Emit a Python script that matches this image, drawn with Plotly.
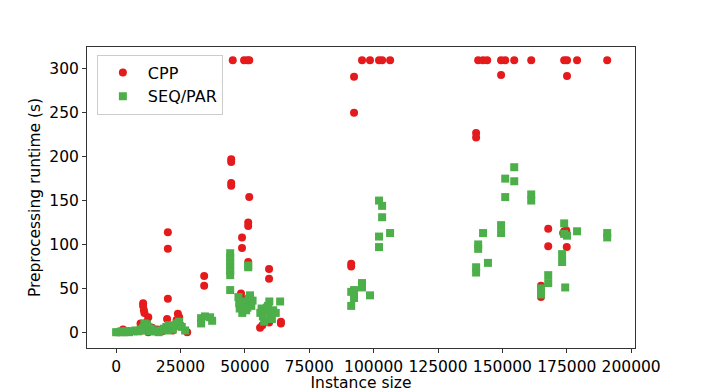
import plotly.graph_objects as go

# CPP runs (red circles): instance size, preprocessing runtime in s
cpp_size = [
    45300, 49700, 51000, 51700, 95500, 98600, 102100, 103300, 106400,
    140600, 142500, 144100, 149500, 151100, 154600, 161200, 174000, 175100, 179000, 190700,
    92400, 92400, 149500, 175100, 139800, 139800,
    44700, 44700, 44700, 44700, 51700, 51300, 51300, 48900, 48900, 51300,
    59400, 59400, 34200, 34200, 48500, 49000, 64000, 64000, 55900, 56800, 59400,
    91300, 91300,
    167800, 167800, 165000, 165000, 174000, 174800, 175000, 173600,
    20100, 20100, 20100, 10500, 10500, 10800, 11000, 12500, 19800, 24000, 24500, 23500,
    2700, 27600, 12000, 9500, 11500, 14000, 10000, 16000, 18000, 22000, 21000, 12500,
    8000, 5000, 3000, 1000, 25000,
]
cpp_time = [
    310, 310, 310, 310, 310, 310, 310, 310, 310,
    310, 310, 310, 310, 310, 310, 310, 310, 310, 310, 310,
    291, 250, 293, 292, 227, 222,
    197, 194, 170, 167, 154, 125, 121, 108, 96, 80,
    72, 61, 64, 53, 44, 38, 12, 10, 5, 8, 11,
    78, 75,
    118, 98, 53, 40, 115, 116, 97, 113,
    114, 95, 38, 33, 30, 25, 22, 17, 15, 21, 17, 14,
    3, 0, 12, 10, 8, 5, 2, 3, 1, 2, 5, 0,
    1, 1, 0, 0, 8,
]

# SEQ/PAR runs (green squares)
seq_size = [
    44300, 44300, 44300, 44300, 44300, 44300, 44300, 51300, 51300,
    47500, 48500, 49500, 50500, 51500, 52000, 50000, 48000, 52500, 49000, 51000, 53000, 47800,
    56000, 57000, 58000, 59000, 59500, 60000, 60500, 61000, 57500, 58500, 62000, 63700, 56500,
    33000, 34500, 36500, 37300, 33000,
    91300, 92400, 92400, 91300, 95500, 95500, 98600,
    102100, 103300, 103300, 106400, 102100, 102100,
    154600, 151100, 154600, 151100, 161200, 161200,
    149500, 149500, 142500, 140600, 140600, 144400, 139800, 139800,
    167800, 167800, 165000, 165000,
    174000, 174000, 175100, 173200, 173200, 174400, 179000, 190700, 190700,
    0, 1000, 2000, 3000, 4000, 5000, 6000, 7500, 8500, 9500, 10500, 11500, 12500,
    13500, 14500, 15500, 16500, 17500, 18500, 19500, 20500, 21500, 22500, 23500,
    24500, 25500, 26800, 11000, 12000, 10000, 13000, 20000, 22000,
]
seq_time = [
    90, 85, 80, 75, 70, 65, 48, 76, 74,
    40, 35, 30, 25, 38, 42, 33, 27, 30, 22, 28, 36, 33,
    22, 18, 25, 30, 35, 20, 15, 25, 12, 28, 22, 35, 27,
    16, 18, 17, 13, 10,
    46, 48, 39, 30, 56, 51, 42,
    150, 144, 131, 113, 109, 97,
    188, 175, 172, 154, 157, 150,
    122, 113, 113, 100, 95, 79, 74, 68,
    65, 56, 50, 43,
    124, 112, 110, 89, 80, 51, 115, 113, 108,
    0, 0, 1, 0, 1, 0, 1, 2, 1, 3, 5, 7, 6,
    4, 2, 1, 0, 2, 4, 6, 8, 5, 7, 10,
    12, 6, 2, 10, 9, 2, 1, 2, 3,
]

x_ticks = [0, 25000, 50000, 75000, 100000, 125000, 150000, 175000, 200000]
y_ticks = [0, 50, 100, 150, 200, 250, 300]

fig = go.Figure()
fig.add_trace(go.Scatter(
    x=cpp_size, y=cpp_time, mode="markers", name="CPP",
    marker=dict(symbol="circle", size=8, color="#e41a1c", line=dict(width=0)),
))
fig.add_trace(go.Scatter(
    x=seq_size, y=seq_time, mode="markers", name="SEQ/PAR",
    marker=dict(symbol="square", size=8, color="#4daf4a", line=dict(width=0)),
))

axis_common = dict(
    showgrid=False, zeroline=False, showline=True, mirror=True,
    linecolor="#333333", linewidth=1, ticks="outside", ticklen=4,
    tickcolor="#333333", tickfont=dict(size=15.5, color="black"),
    automargin=False,
)

fig.update_xaxes(
    range=[-11300, 201500], tickvals=x_ticks, ticktext=[str(v) for v in x_ticks],
    title=dict(text="Instance size", font=dict(size=15.5, color="black"), standoff=2),
    **axis_common,
)
fig.update_yaxes(
    range=[-18, 325], tickvals=y_ticks,
    title=dict(text="Preprocessing runtime (s)", font=dict(size=15.5, color="black"), standoff=4),
    **axis_common,
)

# page body has an 8px margin, so the figure is 8px smaller than the window
fig.update_layout(
    width=698, height=384,
    margin=dict(l=79, r=71, t=39, b=44),
    paper_bgcolor="white", plot_bgcolor="white",
    font=dict(family="DejaVu Sans", size=15.5, color="black"),
    legend=dict(
        x=0.018, y=0.975, xanchor="left", yanchor="top",
        bgcolor="rgba(255,255,255,0.8)", bordercolor="#cccccc", borderwidth=1,
        font=dict(size=16), itemwidth=40,
    ),
    showlegend=True,
)

fig.write_html("out.html")
